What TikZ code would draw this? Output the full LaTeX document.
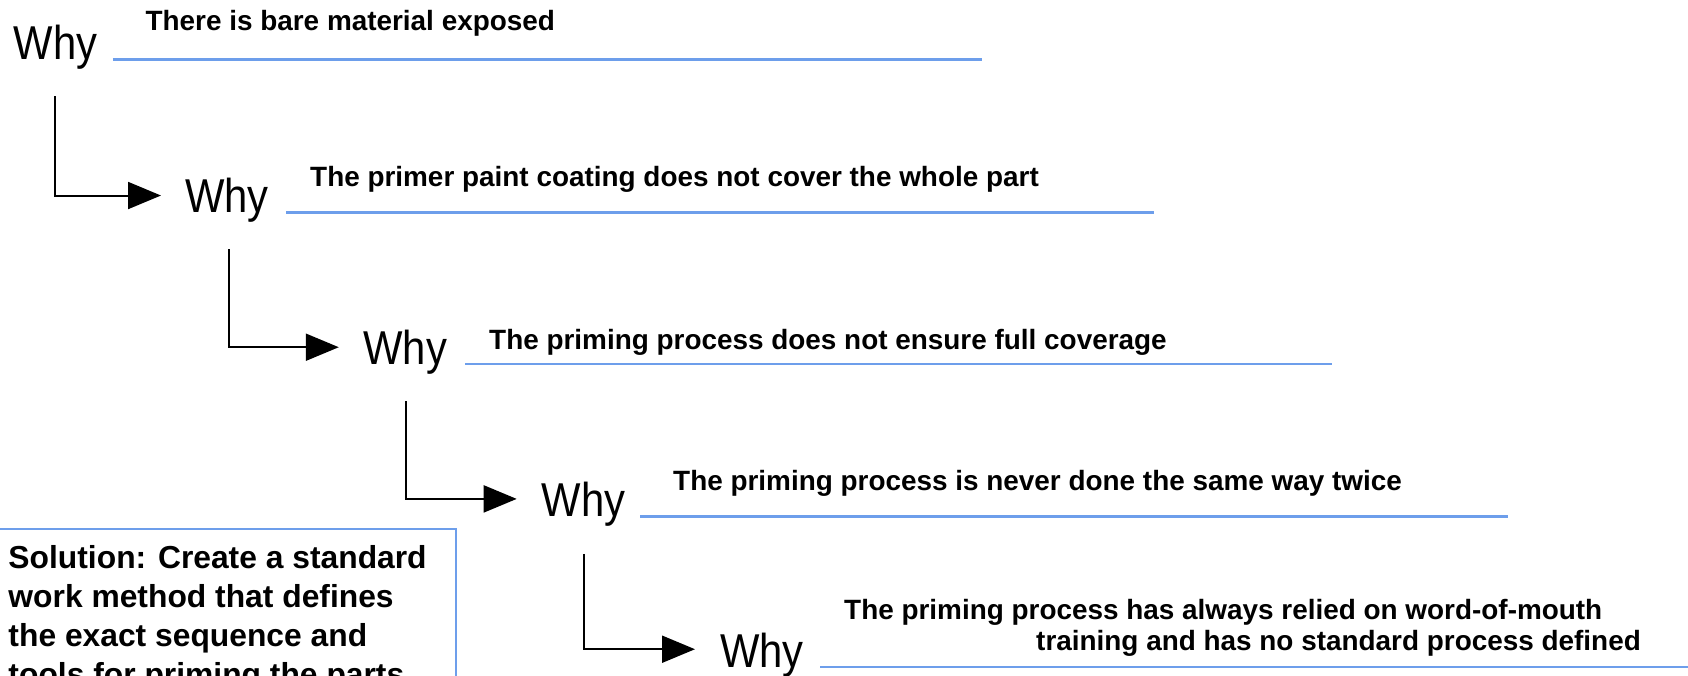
\documentclass[tikz,border=0pt]{standalone}
\usepackage{fontspec}
\setmainfont{Liberation Sans}
\newfontfamily\whyfont[FakeStretch=0.88]{Liberation Sans}
\usetikzlibrary{arrows.meta}
\definecolor{lineblue}{HTML}{6D9EEB}

\tikzset{
  whylbl/.style={anchor=base west, inner sep=0pt,
    font=\whyfont\fontsize{47.5}{50}\selectfont},
  answer/.style={anchor=base west, inner sep=0pt,
    font=\bfseries\fontsize{27.9}{31}\selectfont},
  rule/.style={draw=lineblue, line width=2.5pt},
  conn/.style={draw=black, line width=2pt,
    -{Triangle[length=33pt,width=27pt]}},
  solution/.style={anchor=north west, inner sep=0pt, align=left,
    font=\bfseries\fontsize{31.8}{39}\selectfont},
}

\begin{document}
\begin{tikzpicture}[x=1pt, y=-1pt]
  \clip (0,0) rectangle (1688,676);
  \fill[white] (0,0) rectangle (1688,676);

  % the five "Why" labels
  \node[whylbl] (why1) at (13.4,59.3)  {Why};
  \node[whylbl] (why2) at (185,212.3)  {Why};
  \node[whylbl] (why3) at (363.3,364)  {Why};
  \node[whylbl] (why4) at (541.7,516.7) {Why};
  \node[whylbl] (why5) at (720,667)    {Why};

  % answer lines
  \draw[rule] (112.9,59.3) -- (982,59.3);
  \draw[rule] (286,212.3)  -- (1154,212.3);
  \draw[rule] (465,364)    -- (1331.7,364);
  \draw[rule] (640,516.7)  -- (1508.3,516.7);
  \draw[rule] (820,667)    -- (1700,667);

  % answers
  \node[answer] (ans1)  at (145.4,31) {There is bare material exposed};
  \node[answer] (ans2)  at (310,187)  {The primer paint coating does not cover the whole part};
  \node[answer] (ans3)  at (489,349)  {The priming process does not ensure full coverage};
  \node[answer] (ans4)  at (673,490)  {The priming process is never done the same way twice};
  \node[answer] (ans5a) at (844,619)  {The priming process has always relied on word-of-mouth};
  \node[answer] (ans5b) at (1036,650) {training and has no standard process defined};

  % elbow connectors from one Why to the next
  \draw[conn] ([xshift=41.6pt,yshift=-27pt]why1.south west) |- ([xshift=-24pt,yshift=4.5pt]why2.west);
  \draw[conn] ([xshift=44.3pt,yshift=-27pt]why2.south west) |- ([xshift=-24.5pt,yshift=4.5pt]why3.west);
  \draw[conn] ([xshift=42.7pt,yshift=-27pt]why3.south west) |- ([xshift=-25pt,yshift=5.5pt]why4.west);
  \draw[conn] ([xshift=42.3pt,yshift=-27pt]why4.south west) |- ([xshift=-25pt,yshift=5.5pt]why5.west);

  % solution box
  \draw[draw=lineblue, line width=2pt] (-10,529.3) rectangle (455.5,720);
  \node[solution] (sol) at (8.3,545.5)
    {Solution: Create a standard\\work method that defines\\the exact sequence and\\tools for priming the parts};
\end{tikzpicture}
\end{document}
